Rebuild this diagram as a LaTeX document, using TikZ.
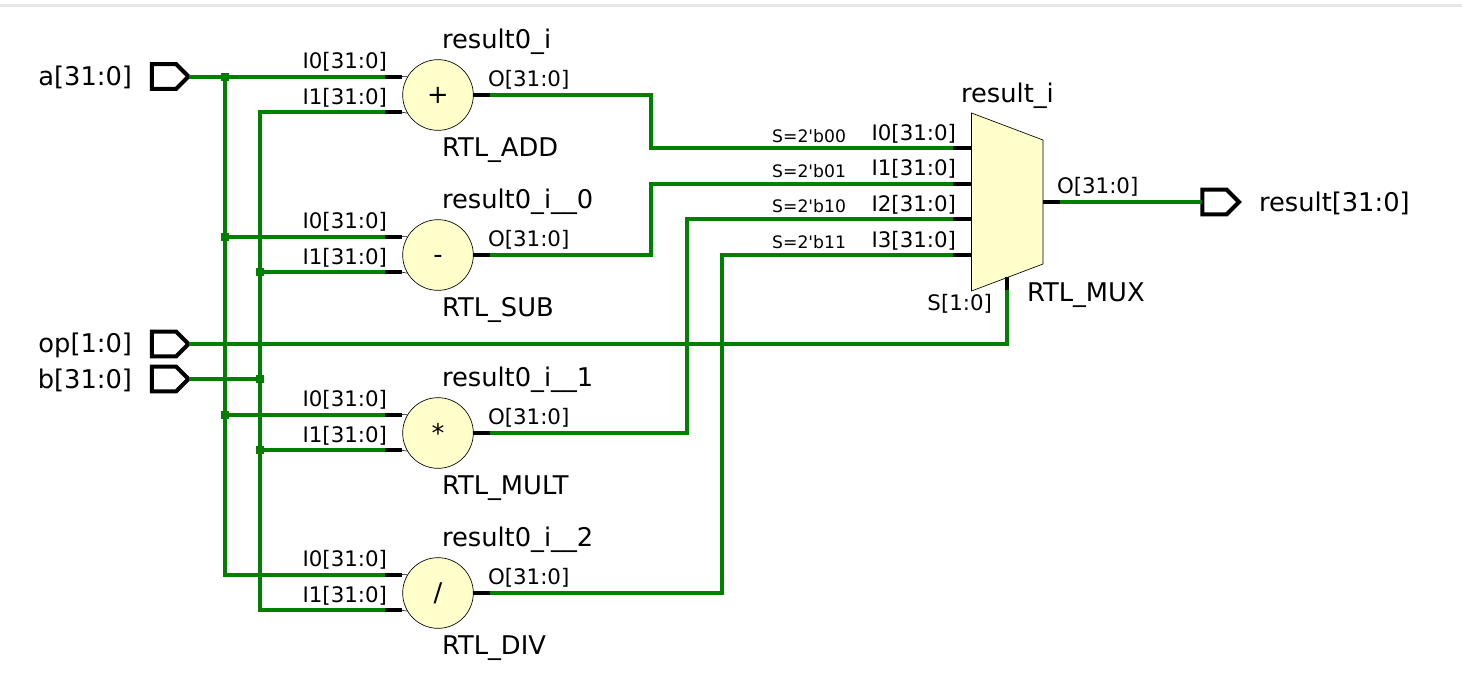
\documentclass[tikz,border=0pt]{standalone}
\usepackage{fontspec}
\setmainfont{DejaVu Sans}
\usetikzlibrary{shapes.symbols,calc}
\definecolor{wiregreen}{RGB}{0,128,0}
\definecolor{blockfill}{RGB}{255,255,204}
\newcommand{\fbig}{\fontsize{19.3}{21}\selectfont}
\newcommand{\fmid}{\fontsize{16}{18}\selectfont}
\newcommand{\fsmall}{\fontsize{12.9}{15}\selectfont}
\tikzset{
  wire/.style={draw=wiregreen,line width=3pt,line join=miter},
  pinline/.style={draw=black,line width=3pt},
  hair/.style={draw=black,line width=0.4pt},
  port/.style={shape=signal,signal to=east,signal pointer angle=90,draw=black,fill=white,line width=3pt,
    minimum width=27.5pt,minimum height=18.5pt,inner sep=0pt,outer sep=0pt},
  opblock/.style={circle,draw=black,fill=blockfill,line width=0.5pt,minimum size=53pt,inner sep=0pt,outer sep=0pt,font=\fbig},
  muxblock/.style={draw=black,fill=blockfill,line width=0.5pt,line join=miter},
  dot/.style={rectangle,fill=wiregreen,minimum size=6pt,inner sep=0pt,outer sep=0pt},
  lbig/.style={inner sep=0pt,outer sep=0pt,font=\fbig,anchor=base west},
  lbigr/.style={inner sep=0pt,outer sep=0pt,font=\fbig,anchor=base east},
  lmid/.style={inner sep=0pt,outer sep=0pt,font=\fmid,anchor=base east},
  lmidl/.style={inner sep=0pt,outer sep=0pt,font=\fmid,anchor=base west},
  lsmall/.style={inner sep=0pt,outer sep=0pt,font=\fsmall,anchor=base east},
}
% #1 name, #2 centre y, #3 symbol, #4 instance label, #5 type label
\newcommand{\opunit}[5]{%
  \node[opblock] (#1) at (438,#2) {#3};
  \coordinate (#1-i0) at (385,#2-18.5);
  \coordinate (#1-i1) at (385,#2+17.2);
  \coordinate (#1-o) at (490,#2);
  \draw[hair] (#1-i0)++(17,0) -- (#1.149);
  \draw[hair] (#1-i1)++(17,0) -- (#1.211);
  \draw[pinline] (#1-i0) -- ++(17,0);
  \draw[pinline] (#1-i1) -- ++(17,0);
  \draw[pinline] (#1.east) -- (#1-o);
  \node[lmid] (#1-li0) at (387,#2-27) {I0[31:0]};
  \node[lmid] (#1-li1) at (387,#2+9) {I1[31:0]};
  \node[lmidl] (#1-lo) at (488,#2-9) {O[31:0]};
  \node[lbig] (#1-name) at (442,#2-47) {#4};
  \node[lbig] (#1-type) at (442,#2+61) {#5};
}
\begin{document}
\begin{tikzpicture}[x=0.75pt,y=-0.75pt]
\useasboundingbox (0,0) rectangle (1462,675);
\fill[white] (0,0) rectangle (1462,675);
\fill[black!9] (0,4) rectangle (1462,7);

% input and output ports
\node[port] (pa) at (164,76.5) {};
\node[port] (pop) at (164,344) {};
\node[port] (pb) at (164,379) {};
\node[port] (pr) at (1214.5,202) {};
\node[lbigr] (la) at (132,85) {a[31:0]};
\node[lbigr] (lop) at (132,352) {op[1:0]};
\node[lbigr] (lb) at (132,388) {b[31:0]};
\node[lbig] (lr) at (1259,211) {result[31:0]};

% operator blocks
\opunit{add}{95}{+}{result0\_i}{RTL\_ADD}
\opunit{sub}{255}{\vphantom{+}-}{result0\_i\_\_0}{RTL\_SUB}
\opunit{mul}{433}{*}{result0\_i\_\_1}{RTL\_MULT}
\opunit{dvd}{593}{/}{result0\_i\_\_2}{RTL\_DIV}

% multiplexer
\coordinate (m-nw) at (971.5,113);
\coordinate (m-ne) at (1043,140);
\coordinate (m-se) at (1043,264);
\coordinate (m-sw) at (971.5,291);
\draw[muxblock] (m-nw) -- (m-ne) -- (m-se) -- (m-sw) -- cycle;
\coordinate (mi0) at (953,148);
\coordinate (mi1) at (953,183.5);
\coordinate (mi2) at (953,219);
\coordinate (mi3) at (953,255);
\coordinate (mo) at (1060,202);
\coordinate (ms) at (1007,290);
\draw[pinline] (mi0) -- ++(18.5,0);
\draw[pinline] (mi1) -- ++(18.5,0);
\draw[pinline] (mi2) -- ++(18.5,0);
\draw[pinline] (mi3) -- ++(18.5,0);
\draw[pinline] (mo) -- ++(-17,0);
\draw[pinline] (ms) -- ++(0,-13);
\node[lmid] (mli0) at (956,140) {I0[31:0]};
\node[lmid] (mli1) at (956,175) {I1[31:0]};
\node[lmid] (mli2) at (956,211) {I2[31:0]};
\node[lmid] (mli3) at (956,247) {I3[31:0]};
\node[lsmall] (ms0) at (846,142) {S=2\textquotesingle b00};
\node[lsmall] (ms1) at (846,177) {S=2\textquotesingle b01};
\node[lsmall] (ms2) at (846,212) {S=2\textquotesingle b10};
\node[lsmall] (ms3) at (846,248) {S=2\textquotesingle b11};
\node[lbig] (mname) at (961,102) {result\_i};
\node[lmidl] (mlo) at (1057,193) {O[31:0]};
\node[lmid] (mls) at (992,310) {S[1:0]};
\node[lbig] (mtype) at (1027,301) {RTL\_MUX};

% bus junctions
\node[dot] (ja0) at (225,76.5) {};
\node[dot] (ja1) at (225,236.5) {};
\node[dot] (ja2) at (225,414.5) {};
\node[dot] (jb1) at (260,272.2) {};
\node[dot] (jb2) at (260,379) {};
\node[dot] (jb3) at (260,450.2) {};

% wires
\draw[wire] (pa.east) -- (add-i0);
\draw[wire] (ja0.center) -- (ja1.center) -- (ja2.center) |- (dvd-i0);
\draw[wire] (add-i1) -| (jb1.center) -- (jb2.center) -- (jb3.center) |- (dvd-i1);
\draw[wire] (ja1.center) -- (sub-i0);
\draw[wire] (ja2.center) -- (mul-i0);
\draw[wire] (jb1.center) -- (sub-i1);
\draw[wire] (jb3.center) -- (mul-i1);
\draw[wire] (pb.east) -- (jb2.center);
\draw[wire] (pop.east) -| (ms);
\draw[wire] (add-o) -- (651,95) |- (mi0);
\draw[wire] (sub-o) -- (651,255) |- (mi1);
\draw[wire] (mul-o) -- (687,433) |- (mi2);
\draw[wire] (dvd-o) -- (722,593) |- (mi3);
\draw[wire] (mo) -- (pr.west);
\end{tikzpicture}
\end{document}
